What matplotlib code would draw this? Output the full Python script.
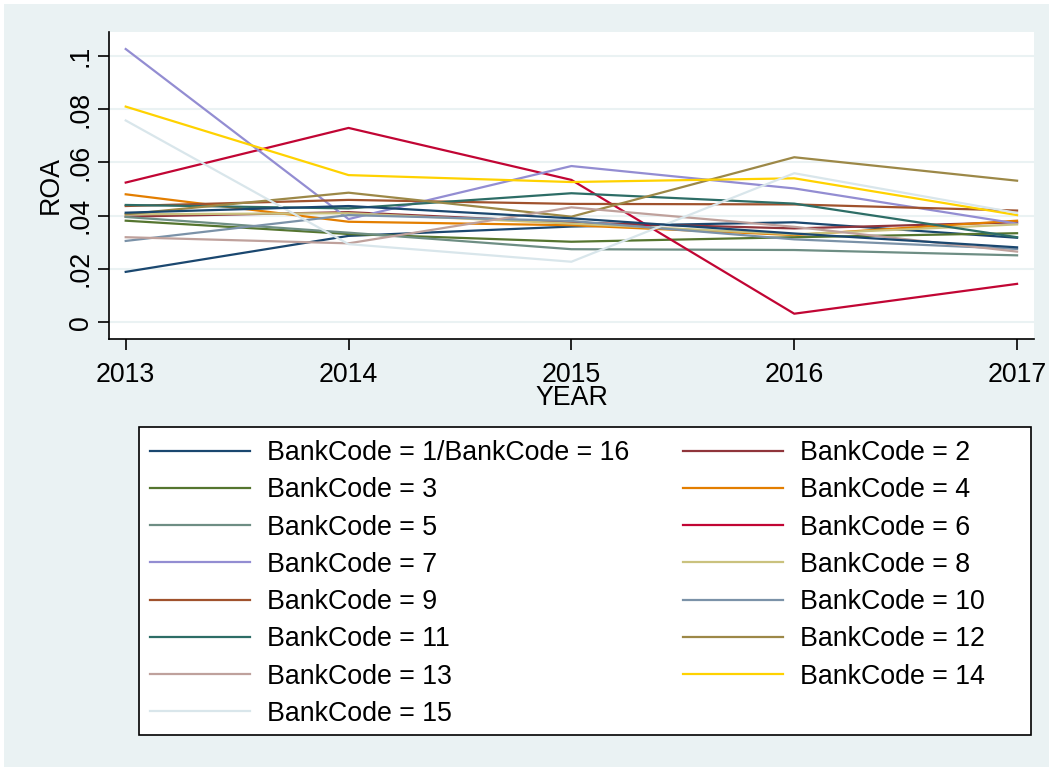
import matplotlib.pyplot as plt
from matplotlib.patches import Rectangle
from matplotlib.lines import Line2D

plt.rcParams['font.family'] = ['Liberation Sans', 'DejaVu Sans']

years = [2013, 2014, 2015, 2016, 2017]

# ROA per bank
bank1 = [0.0189, 0.0324, 0.0359, 0.0375, 0.0317]
bank2 = [0.0396, 0.0413, 0.0374, 0.0352, 0.0375]
bank3 = [0.0381, 0.0331, 0.0302, 0.0319, 0.0334]
bank4 = [0.0480, 0.0377, 0.0364, 0.0327, 0.0381]
bank5 = [0.0395, 0.0336, 0.0274, 0.0271, 0.0251]
bank6 = [0.0524, 0.0729, 0.0534, 0.0032, 0.0144]
bank7 = [0.1025, 0.0387, 0.0586, 0.0502, 0.0370]
bank8 = [0.0405, 0.0409, 0.0370, 0.0330, 0.0367]
bank9 = [0.0436, 0.0459, 0.0444, 0.0442, 0.0419]
bank10 = [0.0305, 0.0402, 0.0380, 0.0311, 0.0275]
bank11 = [0.0440, 0.0427, 0.0484, 0.0445, 0.0319]
bank12 = [0.0405, 0.0486, 0.0396, 0.0619, 0.0531]
bank13 = [0.0319, 0.0296, 0.0431, 0.0358, 0.0265]
bank14 = [0.0809, 0.0552, 0.0526, 0.0540, 0.0402]
bank15 = [0.0757, 0.0293, 0.0227, 0.0559, 0.0410]
bank16 = [0.0411, 0.0436, 0.0390, 0.0333, 0.0281]

series = [bank1, bank2, bank3, bank4, bank5, bank6, bank7, bank8,
          bank9, bank10, bank11, bank12, bank13, bank14, bank15, bank16]
labels = ["BankCode = 1/BankCode = 16"] + ["BankCode = %d" % i for i in range(2, 16)]

# stata s2color line colours
colors = ["#1a476f", "#90353b", "#55752f", "#e37e00", "#6e8e84",
          "#c10534", "#938dd2", "#cac27e", "#a0522d", "#7b92a8",
          "#2d6d66", "#9c8847", "#bfa19c", "#ffd200", "#d9e6eb", "#1a476f"]

yticks = [0, 0.02, 0.04, 0.06, 0.08, 0.1]
ytick_labels = ["0", ".02", ".04", ".06", ".08", ".1"]

W, H = 1053, 771
bg = "#eaf2f3"
fig = plt.figure(figsize=(W / 100, H / 100), dpi=100, facecolor="white")
fig.patches.append(Rectangle((4 / W, 4 / H), (W - 8) / W, (H - 8) / H,
                             transform=fig.transFigure, facecolor=bg,
                             edgecolor="none", zorder=-10))

ax = fig.add_axes([109 / W, (H - 339.3) / H, (1034 - 109) / W, (339.3 - 31.7) / H])
ax.set_facecolor("white")

for s, c in zip(series, colors):
    ax.plot(years, s, color=c, lw=1.6)

ax.set_xlim(2012.925, 2017.076)
ax.set_ylim(-0.0064, 0.109)
ax.set_xticks(years)
ax.set_yticks(yticks)
ax.set_yticklabels(ytick_labels, rotation=90, va="center")
ax.grid(axis="y", color=bg, lw=1.5)
ax.set_axisbelow(True)
for side in ["top", "right"]:
    ax.spines[side].set_visible(False)
for side in ["left", "bottom"]:
    ax.spines[side].set_linewidth(1.2)
ax.tick_params(axis="both", labelsize=19.3, length=8, width=1.2, colors="black")
ax.tick_params(axis="y", pad=3)
ax.tick_params(axis="x", pad=8)
ax.set_xlabel("YEAR", fontsize=19.3, labelpad=-2)
ax.set_ylabel("ROA", fontsize=19.3, labelpad=3)

# legend box
fig.patches.append(Rectangle((139 / W, 1 - 735 / H), (1031 - 139) / W, (735 - 427) / H,
                             transform=fig.transFigure, facecolor="white",
                             edgecolor="black", lw=1.2, zorder=1))

# legend: stata fills row-wise, matplotlib column-wise
handles = [Line2D([], [], color=c, lw=1.6) for c in colors[:15]]
order = list(range(0, 15, 2)) + list(range(1, 15, 2))
leg = fig.legend([handles[i] for i in order], [labels[i] for i in order],
                 ncol=2, loc="upper left", bbox_to_anchor=(150 / W, 1 - 440 / H),
                 fontsize=19.3, frameon=False, handlelength=3.73,
                 handletextpad=0.62, labelspacing=0.42, columnspacing=2.02,
                 borderpad=0, borderaxespad=0)
leg.set_zorder(2)

fig.savefig("out.png", dpi=100, facecolor=fig.get_facecolor())
